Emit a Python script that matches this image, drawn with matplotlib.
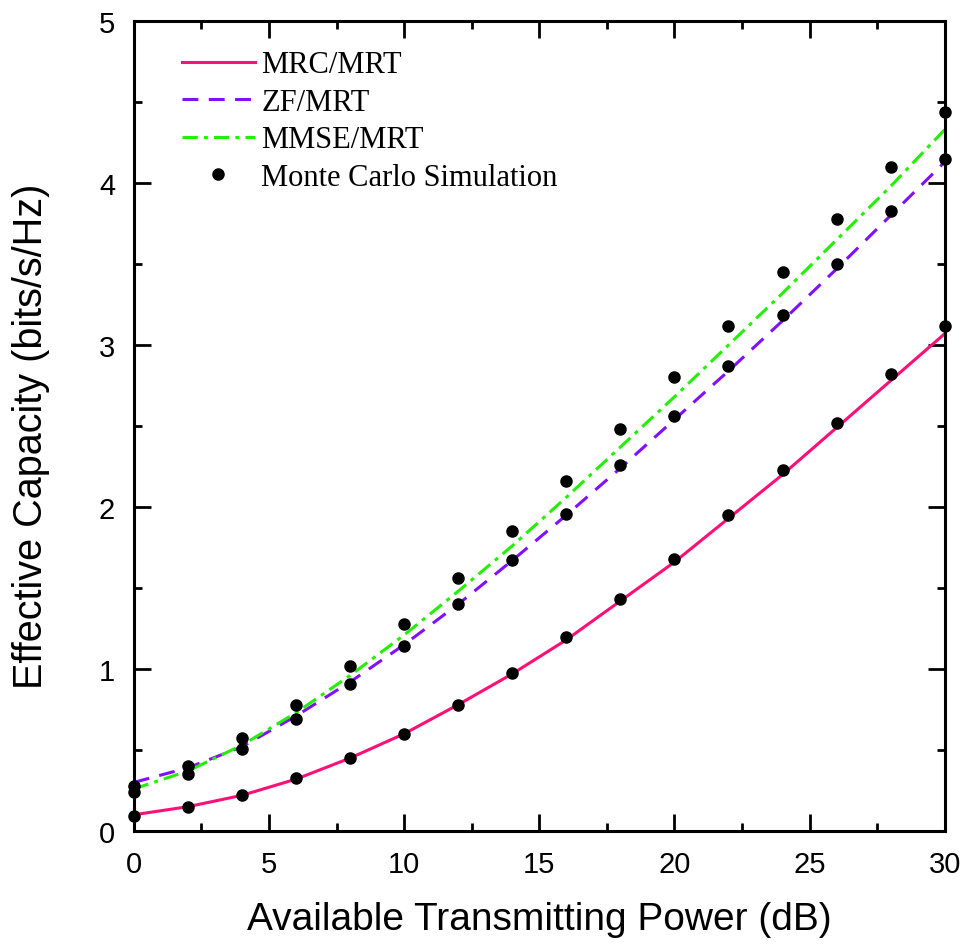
import numpy as np
import matplotlib
matplotlib.use("Agg")
import matplotlib.pyplot as plt
from matplotlib.ticker import MultipleLocator

# transmit power (dB)
snr = [0, 2, 4, 6, 8, 10, 12, 14, 16, 18, 20, 22, 24, 26, 28, 30]

# analytical curves
mrc_line = [0.10, 0.15, 0.22, 0.32, 0.45, 0.60, 0.78, 0.97, 1.18, 1.42, 1.66, 1.93, 2.20, 2.49, 2.78, 3.07]
zf_line = [0.30, 0.39, 0.52, 0.71, 0.92, 1.15, 1.40, 1.67, 1.95, 2.24, 2.54, 2.84, 3.15, 3.47, 3.80, 4.13]
mmse_line = [0.26, 0.37, 0.53, 0.73, 0.96, 1.21, 1.48, 1.76, 2.06, 2.37, 2.68, 3.00, 3.32, 3.65, 3.98, 4.33]

# Monte Carlo points
mrc_sim = [0.09, 0.15, 0.22, 0.33, 0.45, 0.60, 0.78, 0.975, 1.20, 1.43, 1.68, 1.95, 2.23, 2.52, 2.82, 3.12]
zf_sim = [0.28, 0.40, 0.506, 0.69, 0.91, 1.14, 1.40, 1.67, 1.96, 2.26, 2.56, 2.87, 3.185, 3.50, 3.83, 4.15]
mmse_sim = [0.24, 0.35, 0.575, 0.78, 1.02, 1.28, 1.56, 1.85, 2.16, 2.48, 2.80, 3.12, 3.45, 3.78, 4.10, 4.44]

fig = plt.figure(figsize=(9.63, 9.45), dpi=100)
ax = fig.add_axes([0.139, 0.1196, 0.842, 0.857])

lw = 2.2
ax.plot(snr, mrc_line, color="#ff1077", lw=lw, label="MRC/MRT")
ax.plot(snr, zf_line, color="#8010ff", lw=lw, dashes=(5.2, 3.4), label="ZF/MRT")
ax.plot(snr, mmse_line, color="#22f000", lw=lw, dashes=(5, 2, 1.3, 2), label="MMSE/MRT")
ax.plot(snr, mrc_sim, "o", color="black", ms=8, clip_on=False, label="Monte Carlo Simulation")
ax.plot(snr, zf_sim, "o", color="black", ms=8, clip_on=False)
ax.plot(snr, mmse_sim, "o", color="black", ms=8, clip_on=False)

ax.set_xlim(0, 30)
ax.set_ylim(0, 5)
ax.xaxis.set_major_locator(MultipleLocator(5))
ax.xaxis.set_minor_locator(MultipleLocator(2.5))
ax.yaxis.set_major_locator(MultipleLocator(1))
ax.yaxis.set_minor_locator(MultipleLocator(0.5))
ax.tick_params(which="both", direction="in", top=True, right=True, width=2, labelsize=21)
ax.tick_params(which="major", length=12, pad=13.5)
ax.tick_params(which="minor", length=6)
for lab in ax.get_xticklabels() + ax.get_yticklabels():
    lab.set_fontfamily("Liberation Sans")
for s in ax.spines.values():
    s.set_linewidth(2.2)

ax.set_xlabel("Available Transmitting Power (dB)", fontsize=28, family="Liberation Sans")
ax.set_ylabel("Effective Capacity (bits/s/Hz)", fontsize=28.5, family="Liberation Sans")
ax.xaxis.set_label_coords(0.5, -0.086)
ax.yaxis.set_label_coords(-0.104, 0.489)

ax.legend(loc="upper left", bbox_to_anchor=(0.025, 0.998), frameon=False,
          prop={"family": "Liberation Serif", "size": 22}, handlelength=2.4,
          handletextpad=0.2, labelspacing=0.28)

fig.savefig("out.png", dpi=100)
